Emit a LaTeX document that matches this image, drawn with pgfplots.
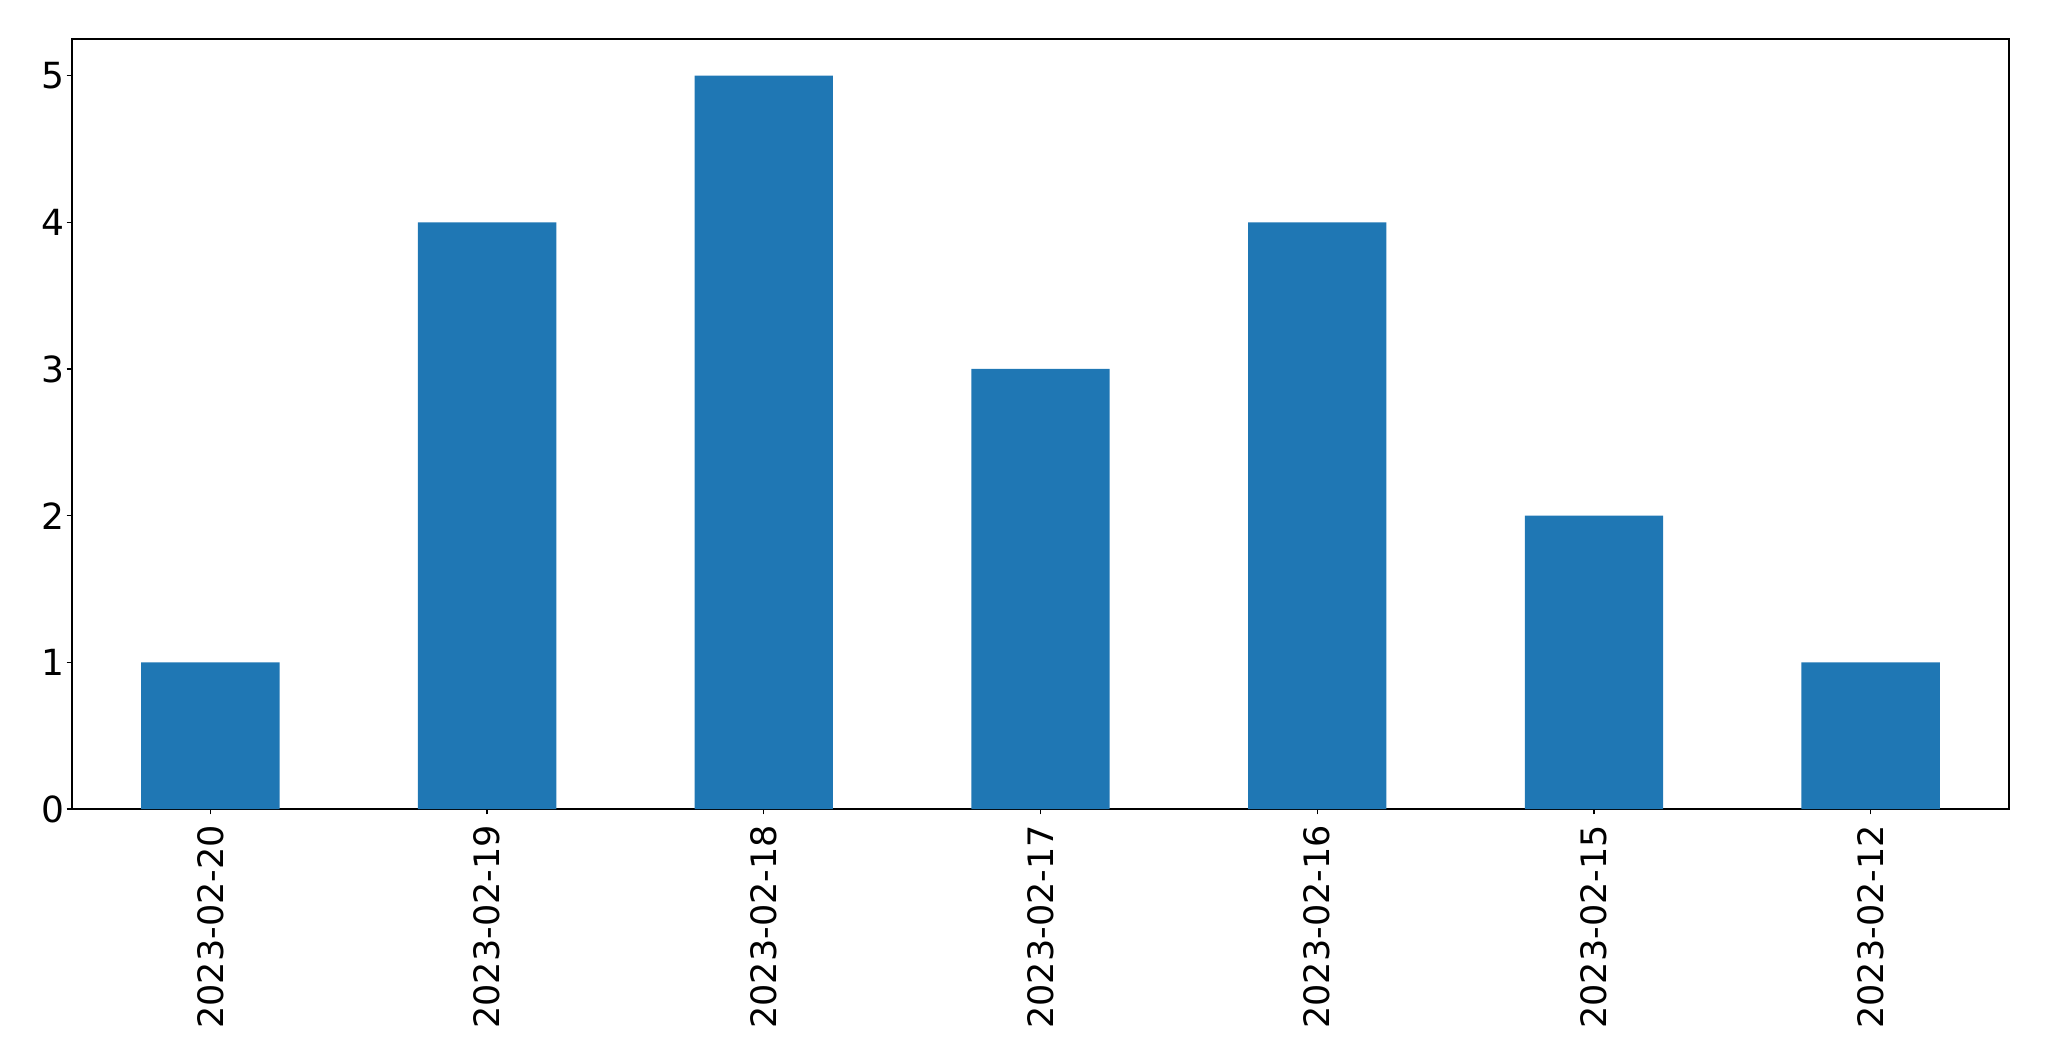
\documentclass[border=0pt]{standalone}
\usepackage{fontspec}
\setmainfont{DejaVu Sans}
\usepackage{pgfplots}
\pgfplotsset{compat=1.18}
\definecolor{tabblue}{HTML}{1F77B4}
\begin{document}
\begin{tikzpicture}
\begin{axis}[
  scale only axis,
  width=581.1pt, height=231pt,
  xmin=-0.5, xmax=6.5, ymin=0, ymax=5.25,
  xtick={0,1,2,3,4,5,6},
  xticklabels={2023-02-20,2023-02-19,2023-02-18,2023-02-17,2023-02-16,2023-02-15,2023-02-12},
  ytick={0,1,2,3,4,5},
  x tick label style={rotate=90, anchor=east, font=\fontsize{10.5}{12}\selectfont},
  y tick label style={font=\fontsize{10.8}{12}\selectfont},
  /pgf/number format/assume math mode=true,
  tick align=outside,
  major tick length=1.6pt,
  xtick pos=bottom, ytick pos=left,
  axis line style={line width=0.4pt},
  tick style={line width=0.4pt, black},
  xticklabel shift=-0.3pt,
  yticklabel shift=-3pt,
]
\addplot[ybar, bar width=0.5, fill=tabblue, draw=none] coordinates {
  (0,1) (1,4) (2,5) (3,3) (4,4) (5,2) (6,1)
};
\end{axis}
\pgfresetboundingbox
\path[use as bounding box] ([shift={(-21.6pt,-75.6pt)}]current axis.south west) rectangle ([shift={(12pt,11.7pt)}]current axis.north east);
\end{tikzpicture}
\end{document}
